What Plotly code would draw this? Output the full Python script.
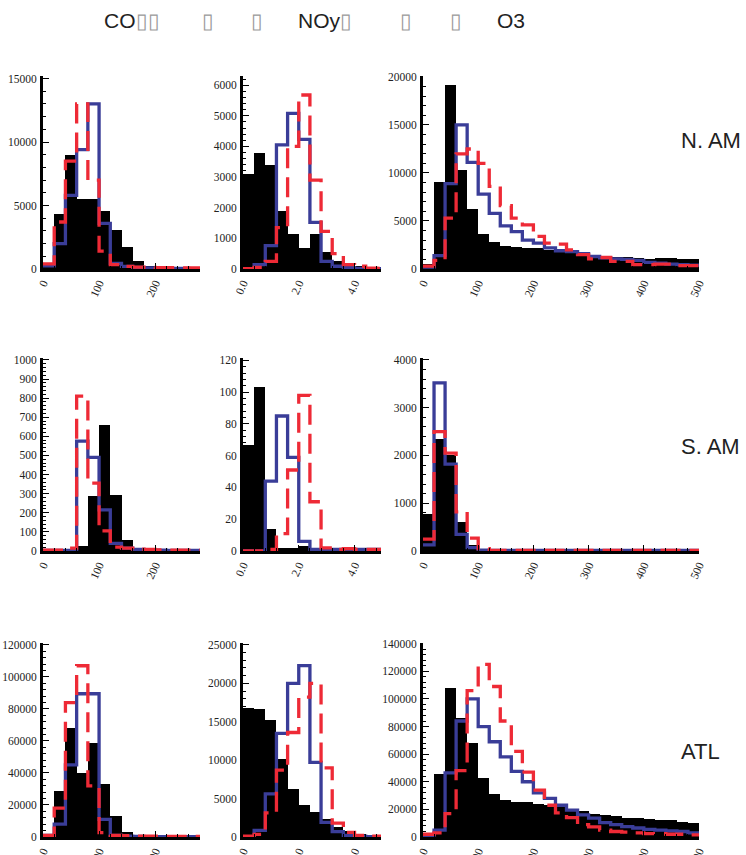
import plotly.graph_objects as go

W, H = 746, 855

# ---------------- data ----------------
co_edges = [0, 20, 40, 60, 80, 100, 120, 140, 160, 180, 200, 220, 240, 260, 280]
noy_edges = [0.0, 0.4, 0.8, 1.2, 1.6, 2.0, 2.4, 2.8, 3.2, 3.6, 4.0, 4.4, 4.8, 5.2]
o3_edges = [0, 20, 40, 60, 80, 100, 120, 140, 160, 180, 200, 220, 240, 260, 280,
            300, 320, 340, 360, 380, 400, 420, 440, 460, 480, 500]

# N. AM
co_nam_obs = [200, 4300, 9000, 5500, 5500, 4600, 3100, 1700, 600, 250, 150, 100, 80, 60]
co_nam_m1 = [250, 2000, 5800, 9400, 13000, 3600, 450, 200, 120, 80, 60, 50, 40, 30]
co_nam_m2 = [400, 3700, 8500, 13000, 7000, 1400, 340, 200, 150, 120, 100, 100, 90, 80]

noy_nam_obs = [3100, 3800, 3400, 1900, 1130, 700, 1150, 570, 250, 100, 100, 50, 30]
noy_nam_m1 = [0, 140, 760, 4050, 5080, 4230, 1520, 250, 90, 40, 20, 10, 10]
noy_nam_m2 = [10, 50, 250, 1350, 4000, 5680, 2900, 1230, 500, 140, 90, 30, 20]

o3_nam_obs = [500, 9100, 19200, 10300, 6200, 3600, 2800, 2400, 2300, 2200, 2200, 2000,
              1900, 1800, 1600, 1500, 1400, 1300, 1200, 1100, 1050, 1100, 1100, 1000, 1000]
o3_nam_m1 = [200, 1400, 8900, 15000, 11100, 7800, 5800, 4500, 3900, 3000, 2700, 2200,
             1900, 1800, 1600, 1300, 1150, 1050, 1000, 900, 700, 600, 500, 450, 400]
o3_nam_m2 = [300, 900, 5300, 12000, 12500, 11000, 8600, 6600, 5300, 4600, 3400, 2700,
             2600, 2000, 1500, 1050, 1200, 800, 800, 450, 450, 500, 500, 350, 350]

# S. AM
co_sam_obs = [0, 0, 0, 25, 290, 660, 295, 55, 10, 5, 3, 2, 2, 2]
co_sam_m1 = [3, 3, 3, 575, 490, 215, 40, 15, 8, 5, 4, 3, 3, 3]
co_sam_m2 = [5, 5, 15, 810, 355, 105, 20, 15, 10, 8, 6, 5, 5, 5]

noy_sam_obs = [67, 103, 14, 2, 2, 3, 2, 2, 1, 2, 2, 1, 1]
noy_sam_m1 = [0, 0, 44, 85, 59, 6, 1, 1, 1, 1, 1, 1, 1]
noy_sam_m2 = [0, 0, 1, 11, 51, 98, 31, 2, 1, 1.5, 1, 1, 1]

o3_sam_obs = [780, 2350, 2000, 600, 120, 30, 15, 12, 10, 10, 10, 10, 10, 10, 10, 10,
              10, 10, 10, 10, 10, 10, 10, 10, 10]
o3_sam_m1 = [130, 3520, 1820, 350, 70, 20, 10, 10, 10, 10, 10, 10, 10, 10, 10, 10,
             10, 10, 10, 10, 10, 10, 10, 10, 10]
o3_sam_m2 = [250, 2500, 2050, 820, 270, 50, 15, 10, 10, 10, 10, 10, 10, 10, 10, 10,
             10, 10, 10, 10, 10, 10, 10, 10, 10]

# ATL
co_atl_obs = [1000, 29000, 68000, 40000, 59000, 33000, 13000, 3000, 1000, 500, 300, 200, 200, 200]
co_atl_m1 = [1000, 8000, 45000, 89500, 89500, 11000, 1000, 500, 300, 200, 200, 200, 200, 200]
co_atl_m2 = [1000, 18000, 84000, 107000, 32000, 2700, 1000, 800, 600, 500, 500, 400, 400, 400]

noy_atl_obs = [16800, 16600, 15200, 10200, 6200, 4200, 3300, 2400, 1300, 800, 400, 300, 200]
noy_atl_m1 = [0, 850, 5600, 13500, 20000, 22300, 9700, 1900, 700, 200, 100, 50, 50]
noy_atl_m2 = [100, 350, 3150, 8700, 13600, 18200, 20000, 9000, 1800, 600, 200, 100, 100]

o3_atl_obs = [500, 45500, 108000, 86000, 68000, 43000, 31500, 27000, 25000, 25000, 24000,
              23000, 21500, 20000, 18500, 17000, 16000, 15000, 14000, 13500, 13000, 12500,
              12000, 11000, 10500]
o3_atl_m1 = [0, 5000, 46500, 84000, 100000, 80000, 69000, 58000, 47500, 40000, 32000,
             28000, 23000, 19500, 16000, 13600, 10400, 9000, 7500, 6500, 5500, 5000,
             4500, 4000, 3000]
o3_atl_m2 = [2000, 3000, 17000, 48000, 106000, 125000, 109000, 84000, 62000, 47000, 34000,
             23000, 17500, 14000, 9000, 7300, 5000, 4000, 3500, 3000, 2500, 2500, 2000,
             2000, 1500]

region_labels = ["N. AM", "S. AM", "ATL"]

# x tick labels
co_ticks = [0, 100, 200]
co_ticktext = ["0", "100", "200"]
noy_ticks = [0.0, 2.0, 4.0]
noy_ticktext = ["0.0", "2.0", "4.0"]
o3_ticks = [0, 100, 200, 300, 400, 500]
o3_ticktext = ["0", "100", "200", "300", "400", "500"]

# y axis: (tick step, max label, axis top)
y_specs = [
    [(5000, 15000, 15200), (1000, 6000, 6300), (5000, 20000, 20100)],
    [(100, 1000, 1010), (20, 120, 121.5), (1000, 4000, 4040)],
    [(20000, 120000, 121200), (5000, 25000, 25250), (20000, 140000, 140500)],
]

# ---------------- layout geometry (pixels) ----------------
col_px = [(43, 200), (243, 381), (423, 699)]
row_px = [(76, 269), (358, 551), (643, 837)]

BLUE = "#3a3d98"
RED = "#ee2a36"

panels = [
    [(co_edges, co_nam_obs, co_nam_m1, co_nam_m2),
     (noy_edges, noy_nam_obs, noy_nam_m1, noy_nam_m2),
     (o3_edges, o3_nam_obs, o3_nam_m1, o3_nam_m2)],
    [(co_edges, co_sam_obs, co_sam_m1, co_sam_m2),
     (noy_edges, noy_sam_obs, noy_sam_m1, noy_sam_m2),
     (o3_edges, o3_sam_obs, o3_sam_m1, o3_sam_m2)],
    [(co_edges, co_atl_obs, co_atl_m1, co_atl_m2),
     (noy_edges, noy_atl_obs, noy_atl_m1, noy_atl_m2),
     (o3_edges, o3_atl_obs, o3_atl_m1, o3_atl_m2)],
]
x_specs = [
    ((0, 280), co_ticks, co_ticktext, 20),
    ((0, 4.95), noy_ticks, noy_ticktext, 0.4),
    ((0, 500), o3_ticks, o3_ticktext, 20),
]

fig = go.Figure()
layout = {}
tickfont = dict(family="Liberation Serif, Times New Roman, serif", size=11.5, color="#222")

for r in range(3):
    for c in range(3):
        k = r * 3 + c + 1
        xa = "x" if k == 1 else f"x{k}"
        ya = "y" if k == 1 else f"y{k}"
        edges, obs, m1, m2 = panels[r][c]
        n = len(obs)
        centers = [(edges[i] + edges[i + 1]) / 2 for i in range(n)]
        widths = [edges[i + 1] - edges[i] for i in range(n)]
        fig.add_trace(go.Bar(x=centers, y=obs, width=widths, marker=dict(
            color="black", line=dict(color="black", width=0)),
            xaxis=xa, yaxis=ya, showlegend=False, hoverinfo="skip"))
        fig.add_trace(go.Scatter(x=edges[:n + 1], y=list(m1) + [m1[-1]], mode="lines",
                                 line=dict(color=BLUE, width=3.3, shape="hv"),
                                 xaxis=xa, yaxis=ya, showlegend=False, cliponaxis=True))
        fig.add_trace(go.Scatter(x=edges[:n + 1], y=list(m2) + [m2[-1]], mode="lines",
                                 line=dict(color=RED, width=3.3, shape="hv", dash="20px,9px"),
                                 xaxis=xa, yaxis=ya, showlegend=False, cliponaxis=True))

        x0, x1 = col_px[c]
        y0, y1 = row_px[r]
        xr, xt, xtt, xminor = x_specs[c]
        ystep, ymaxlab, ytop = y_specs[r][c]
        xkey = "xaxis" if k == 1 else f"xaxis{k}"
        ykey = "yaxis" if k == 1 else f"yaxis{k}"
        layout[xkey] = dict(
            domain=[x0 / W, x1 / W], anchor=ya, range=list(xr), automargin=False,
            showline=True, linewidth=3, linecolor="black", mirror=False,
            ticks="inside", ticklen=6, tickwidth=1, tickcolor="black",
            tickvals=xt, ticktext=xtt, tickangle=-65, tickfont=tickfont,
            minor=dict(ticks="inside", dtick=xminor, tick0=0, ticklen=3, tickwidth=1,
                       tickcolor="black"),
            showgrid=False, zeroline=False, fixedrange=True)
        layout[ykey] = dict(
            domain=[1 - y1 / H, 1 - y0 / H], anchor=xa, range=[0, ytop], automargin=False,
            showline=True, linewidth=3, linecolor="black", mirror=False,
            ticks="inside", ticklen=6, tickwidth=1, tickcolor="black",
            tickmode="linear", tick0=0, dtick=ystep, tickformat="d", tickfont=tickfont,
            minor=dict(ticks="inside", dtick=ystep / 5, ticklen=3, tickwidth=1,
                       tickcolor="black"),
            showgrid=False, zeroline=False, fixedrange=True, ticklabelstandoff=1)

annotations = []
label_y = [140, 447, 751]
for r in range(3):
    annotations.append(dict(text=region_labels[r], x=679 / W, y=1 - label_y[r] / H,
                            xref="paper", yref="paper", xanchor="left", yanchor="middle",
                            showarrow=False,
                            font=dict(family="Liberation Sans, Arial, sans-serif", size=22,
                                      color="#222")))

# title pieces: (text, x px)
BOX = "<span style='color:#9a9a9a'>▯</span>"
title_parts = [("CO" + BOX + BOX, 102), (BOX, 200), (BOX, 249), ("NOy" + BOX, 296),
               (BOX, 398), (BOX, 448), ("O3", 495)]
for txt, xp in title_parts:
    annotations.append(dict(text=txt, x=xp / W, y=1 - 20 / H, xref="paper", yref="paper",
                            xanchor="left", yanchor="middle", showarrow=False,
                            font=dict(family="Liberation Sans, Arial, sans-serif", size=21,
                                      color="#222")))

fig.update_layout(**layout)
fig.update_layout(width=W, height=H, margin=dict(l=0, r=0, t=0, b=0, autoexpand=False),
                  paper_bgcolor="white", plot_bgcolor="white", bargap=0,
                  annotations=annotations, showlegend=False)
fig.write_html("out.html", config={"displayModeBar": False},
               post_script="document.body.style.margin='0';document.body.style.overflow='hidden';")
